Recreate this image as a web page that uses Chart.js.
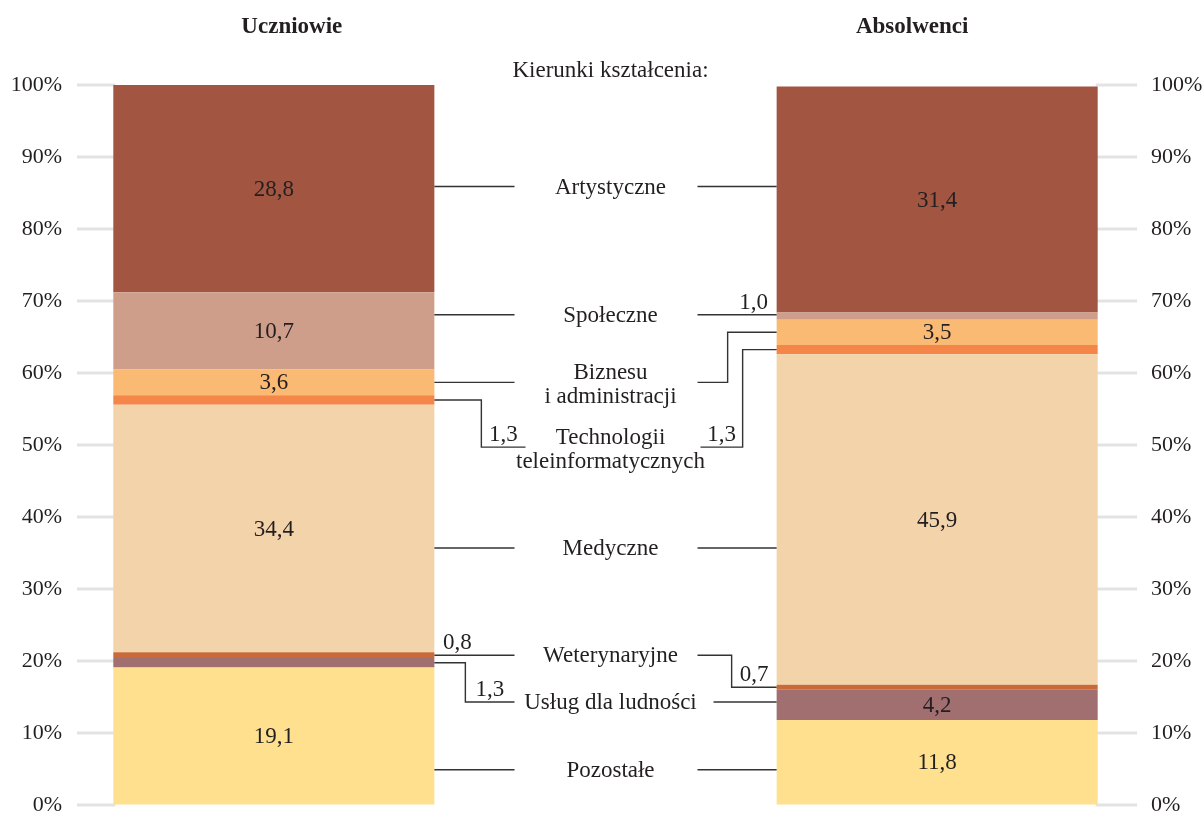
<!DOCTYPE html>
<html><head><meta charset="utf-8">
<script src="https://cdn.jsdelivr.net/npm/chart.js@4.4.1/dist/chart.umd.min.js"></script>
<style>html,body{margin:0;padding:0;background:#fff;overflow:hidden;} canvas{display:block;}</style>
</head><body><canvas id="c" width="1203" height="816" style="width:1203px;height:816px"></canvas>
<script>
// ---- data ----
const groups = ['Uczniowie', 'Absolwenci'];
const columnLabels = ['Uczniowie', '', 'Absolwenci'];
const middleTitle = 'Kierunki kształcenia:';
const kierunki = ['Pozostałe', 'Usług dla ludności', 'Weterynaryjne', 'Medyczne',
  'Technologii\nteleinformatycznych', 'Biznesu\ni administracji', 'Społeczne', 'Artystyczne'];
const uczniowie = [19.1, 1.3, 0.8, 34.4, 1.3, 3.6, 10.7, 28.8];
const absolwenci = [11.8, 4.2, 0.7, 45.9, 1.3, 3.5, 1.0, 31.4];
const yTicks = [0, 10, 20, 30, 40, 50, 60, 70, 80, 90, 100];

// ---- styles / layout ----
const colors = ['#FEE08F', '#A16F70', '#C96A37', '#F3D3AA', '#F5864A', '#FBBA74', '#CF9E8B', '#A25642'];
const captionLevels = [4.9, 14.3, 20.8, 35.7, 49.7, 58.7, 68.1, 85.9];
const connectorStyle = [{}, {elbowL: 31, gapR: 103}, {elbowR: 45}, {}, {elbowL: 47, elbowR: 34, gapL: 85, gapR: 90}, {elbowR: 49}, {}, {}];
const FONT = "'Liberation Serif', 'Times New Roman', serif";
const TXT = '#231f20';
const FS = 23;
const fmt = v => v.toFixed(1).replace('.', ',');

Chart.defaults.font.family = FONT;

const datasets = kierunki.map((k, i) => ({
  label: k,
  data: [uczniowie[i], null, absolwenci[i]],
  backgroundColor: colors[i],
  borderWidth: 0,
  barPercentage: 0.968,
  categoryPercentage: 1,
  stack: 's'
}));

const overlay = {
  id: 'overlay',
  beforeDatasetsDraw(chart) {
    const ctx = chart.ctx, y = chart.scales.y;
    const m = chart.getDatasetMeta(0);
    const b0 = m.data[0].getProps(['x', 'width'], true);
    const b2 = m.data[2].getProps(['x', 'width'], true);
    const l0 = b0.x - b0.width / 2, r2 = b2.x + b2.width / 2;
    ctx.save();
    ctx.strokeStyle = '#e3e3e3'; ctx.lineWidth = 3;
    y.ticks.forEach(t => {
      const py = y.getPixelForValue(t.value);
      ctx.beginPath();
      ctx.moveTo(77, py); ctx.lineTo(l0 + 2, py);
      ctx.moveTo(r2 - 2, py); ctx.lineTo(1137, py);
      ctx.stroke();
    });
    ctx.restore();
  },
  afterDatasetsDraw(chart) {
    const ctx = chart.ctx, y = chart.scales.y, x = chart.scales.x;
    const midX = x.getPixelForValue(1) + 5;
    ctx.save();
    ctx.fillStyle = TXT;
    ctx.strokeStyle = '#333';
    ctx.lineWidth = 1.4;
    ctx.font = FS + 'px ' + FONT;
    kierunki.forEach((k, i) => {
      const meta = chart.getDatasetMeta(i);
      const cs = connectorStyle[i];
      const ly = y.getPixelForValue(captionLevels[i]);
      [0, 2].forEach(j => {
        const v = chart.data.datasets[i].data[j];
        const el = meta.data[j].getProps(['x', 'y', 'base', 'width'], true);
        const top = Math.min(el.y, el.base), bot = Math.max(el.y, el.base);
        if (v >= 3.5) {
          ctx.textAlign = 'center'; ctx.textBaseline = 'middle';
          ctx.fillText(fmt(v), el.x, (top + bot) / 2 + 1);
        }
        const left = j === 0;
        const dir = left ? 1 : -1;
        const edge = left ? el.x + el.width / 2 : el.x - el.width / 2;
        const end = left ? midX - (cs.gapL || 96) : midX + (cs.gapR || 87);
        let lowerY, segA, segB;
        ctx.beginPath();
        if (ly >= top - 0.5 && ly <= bot + 0.5) {
          ctx.moveTo(edge, ly); ctx.lineTo(end, ly);
          lowerY = ly; segA = edge; segB = edge + dir * 46;
        } else {
          const ay = (top + bot) / 2;
          const ex = edge + dir * (left ? cs.elbowL : cs.elbowR);
          ctx.moveTo(edge, ay); ctx.lineTo(ex, ay); ctx.lineTo(ex, ly); ctx.lineTo(end, ly);
          if (ly > ay) { lowerY = ly; segA = ex; segB = end; }
          else { lowerY = ay; segA = edge; segB = ex; }
        }
        ctx.stroke();
        if (v < 3.5) {
          ctx.textAlign = 'center'; ctx.textBaseline = 'alphabetic';
          ctx.fillText(fmt(v), (segA + segB) / 2, lowerY - 6);
        }
      });
      ctx.textAlign = 'center'; ctx.textBaseline = 'alphabetic';
      const lines = k.split('\n');
      if (lines.length === 1) ctx.fillText(lines[0], midX, ly + 7);
      else { ctx.fillText(lines[0], midX, ly - 3); ctx.fillText(lines[1], midX, ly + 21); }
    });
    ctx.textAlign = 'center'; ctx.textBaseline = 'alphabetic';
    ctx.fillText(middleTitle, midX, 77);
    ctx.font = 'bold ' + FS + 'px ' + FONT;
    const m0 = chart.getDatasetMeta(0);
    const shifts = [18, -25];
    [0, 2].forEach((j, g) => {
      const el = m0.data[j].getProps(['x'], true);
      ctx.fillText(groups[g], el.x + shifts[g], 33);
    });
    ctx.restore();
  }
};

const tickOpts = {
  font: {size: 22, family: FONT, lineHeight: 0.9},
  color: TXT,
  padding: 0,
  callback: v => v + '%'
};
const hiddenGrid = tl => ({display: true, drawOnChartArea: false, drawTicks: true, tickLength: tl, color: 'rgba(0,0,0,0)'});

new Chart(document.getElementById('c'), {
  type: 'bar',
  data: {labels: columnLabels, datasets},
  options: {
    responsive: false,
    maintainAspectRatio: false,
    devicePixelRatio: 1,
    animation: false,
    layout: {padding: {top: 85, bottom: 11, left: 0, right: 0}},
    plugins: {legend: {display: false}, tooltip: {enabled: false}},
    scales: {
      x: {display: false, stacked: true},
      y: {
        stacked: true, min: 0, max: 100, position: 'left',
        grid: hiddenGrid(46),
        border: {display: false},
        ticks: tickOpts,
        afterBuildTicks: s => { s.ticks = yTicks.map(v => ({value: v})); },
        afterFit: s => { s.width = 108; }
      },
      y2: {
        min: 0, max: 100, position: 'right',
        grid: hiddenGrid(48),
        border: {display: false},
        ticks: tickOpts,
        afterBuildTicks: s => { s.ticks = yTicks.map(v => ({value: v})); },
        afterFit: s => { s.width = 100; }
      }
    }
  },
  plugins: [overlay]
});
</script>
</body></html>
